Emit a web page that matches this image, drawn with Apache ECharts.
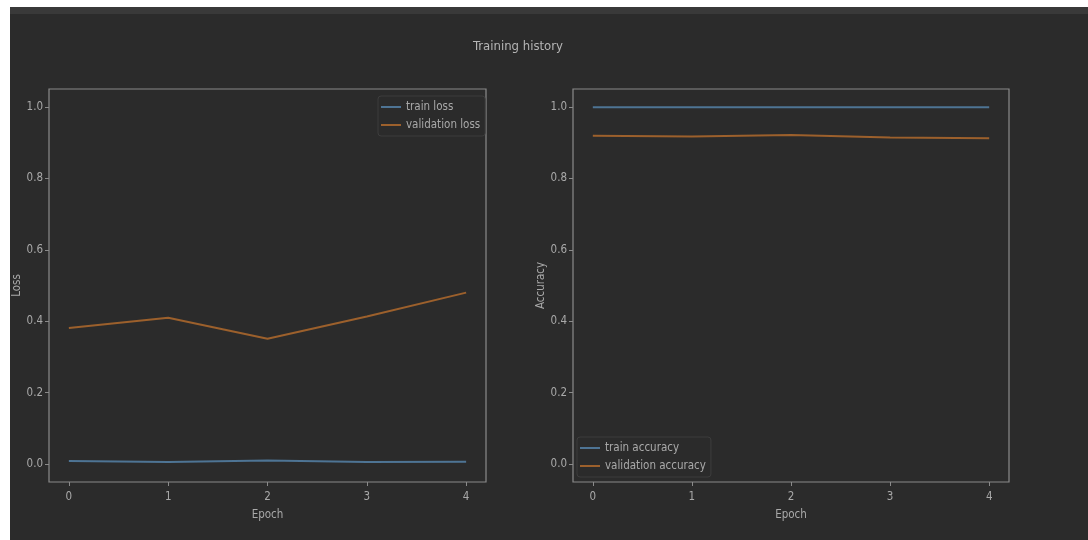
<!DOCTYPE html>
<html><head><meta charset="utf-8">
<script src="https://cdn.jsdelivr.net/npm/echarts@6/dist/echarts.min.js"></script>
<style>html,body{margin:0;padding:0;background:#fff;}#c{width:1088px;height:540px;}</style>
</head><body><div id="c"></div>
<script>
const epochs = [0, 1, 2, 3, 4];
const trainLoss = [0.009, 0.006, 0.010, 0.006, 0.007];
const valLoss = [0.381, 0.410, 0.351, 0.413, 0.480];
const trainAcc = [0.999, 0.999, 0.999, 0.999, 0.999];
const valAcc = [0.919, 0.917, 0.921, 0.914, 0.912];
const yTicks = [0.0, 0.2, 0.4, 0.6, 0.8, 1.0];
const xTicks = [0, 1, 2, 3, 4];

const FONT = 'DejaVu Sans Condensed, DejaVu Sans, sans-serif';
const TXT = '#a9a9a9';
const FRAME = '#8a8a8a';
const BLUE = '#4e7494';
const ORANGE = '#9c602c';

function pairs(ys){ return epochs.map((e,i)=>[e, ys[i]]); }

function xAxis(idx){
  return {
    type:'value', gridIndex:idx, min:-0.2, max:4.2, position:'bottom',
    name:'Epoch', nameLocation:'middle', nameGap:27,
    nameTextStyle:{color:TXT, fontSize:11.5, fontFamily:FONT},
    axisLine:{show:false, onZero:false},
    axisTick:{show:true, length:4, customValues:xTicks, lineStyle:{color:FRAME}},
    axisLabel:{customValues:xTicks, color:TXT, fontSize:11.5, fontFamily:FONT, margin:9, formatter:v=>String(v)},
    splitLine:{show:false}
  };
}
function yAxis(idx, name, gap){
  return {
    type:'value', gridIndex:idx, min:-0.05, max:1.05, position:'left',
    name:name, nameLocation:'middle', nameGap:gap, nameRotate:90,
    nameTextStyle:{color:TXT, fontSize:11.5, fontFamily:FONT},
    axisLine:{show:false, onZero:false},
    axisTick:{show:true, length:4, customValues:yTicks, lineStyle:{color:FRAME}},
    axisLabel:{customValues:yTicks, color:TXT, fontSize:11.5, fontFamily:FONT, margin:6, formatter:v=>v.toFixed(1)},
    splitLine:{show:false}
  };
}
function line(name, idx, ys, color){
  return {name:name, type:'line', xAxisIndex:idx, yAxisIndex:idx, data:pairs(ys),
    showSymbol:false, symbol:'none', lineStyle:{color:color, width:2}, itemStyle:{color:color}, animation:false};
}
const legendCommon = {
  orient:'vertical', itemWidth:20, itemHeight:2, icon:'rect', itemGap:4,
  padding:[4,5,4,3], borderColor:'#3d3d3d', borderWidth:1, borderRadius:3,
  textStyle:{color:TXT, fontSize:11.5, fontFamily:FONT, lineHeight:14}
};
const chart = echarts.init(document.getElementById('c'));
chart.setOption({
  backgroundColor:'#2b2b2b',
  animation:false,
  graphic:[
    {type:'rect', shape:{x:0,y:0,width:1088,height:7}, style:{fill:'#ffffff'}, silent:true},
    {type:'rect', shape:{x:0,y:7,width:1088,height:7}, style:{fill:'#393939'}, silent:true},
    {type:'rect', shape:{x:0,y:0,width:10,height:540}, style:{fill:'#ffffff'}, silent:true}
  ],
  title:{text:'Training history', left:513, top:35, textAlign:'center',
    textStyle:{color:'#b5b5b5', fontSize:13, fontWeight:'normal', fontFamily:FONT}},
  grid:[
    {left:49, top:89, width:437, height:393, show:true, borderColor:FRAME, borderWidth:1.2, backgroundColor:'transparent'},
    {left:573, top:89, width:436, height:393, show:true, borderColor:FRAME, borderWidth:1.2, backgroundColor:'transparent'}
  ],
  xAxis:[xAxis(0), xAxis(1)],
  yAxis:[yAxis(0,'Loss',23), yAxis(1,'Accuracy',26)],
  legend:[
    Object.assign({}, legendCommon, {data:['train loss','validation loss'], left:378, top:96}),
    Object.assign({}, legendCommon, {data:['train accuracy','validation accuracy'], left:577, top:437})
  ],
  series:[
    line('train loss',0,trainLoss,BLUE),
    line('validation loss',0,valLoss,ORANGE),
    line('train accuracy',1,trainAcc,BLUE),
    line('validation accuracy',1,valAcc,ORANGE)
  ]
});
</script></body></html>
